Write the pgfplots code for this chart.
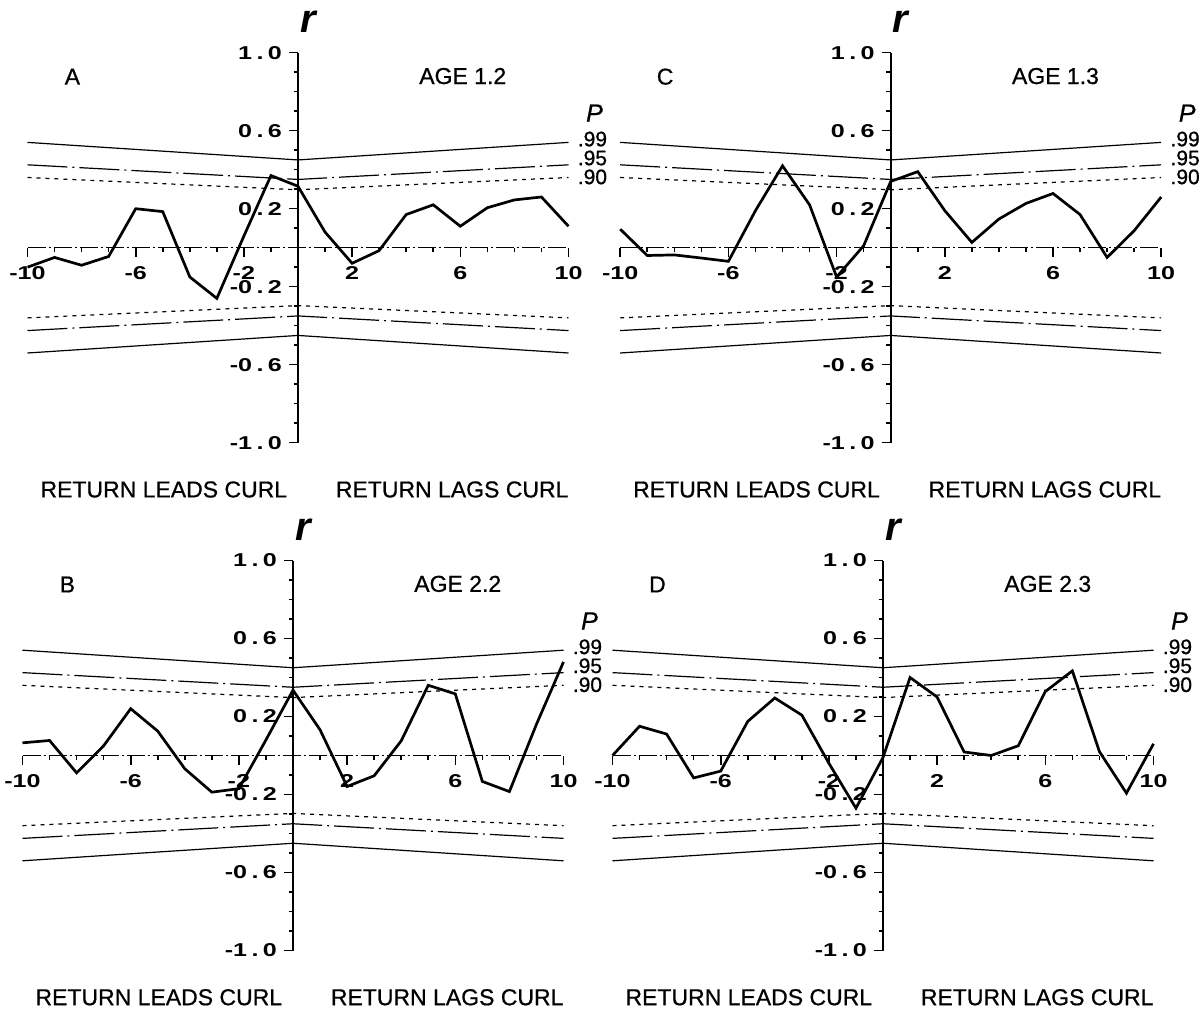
\documentclass[border=0pt]{standalone}
\usepackage{fontspec}
\setmainfont{Liberation Sans}
\newfontfamily\tickfont[FakeStretch=1.35]{Liberation Sans}
\newfontfamily\labfont[FakeBold=0.7]{Liberation Sans}
\usepackage{pgfplots}
\pgfplotsset{compat=1.18}

% spaced decimal for the r-axis labels, e.g. "0 . 6"
\newcommand{\dd}[2]{#1\hspace{2.2pt}.\hspace{2.2pt}#2}

\pgfplotsset{
  lagpanel/.style={
    scale only axis, width=270.5pt, height=195pt,
    xmin=-10, xmax=10, ymin=-1, ymax=1,
    axis lines=middle, enlargelimits=false, clip=false,
    axis line style={-},
    y axis line style={line width=1pt},
    x axis line style={line width=0.7pt, dash pattern=on 9pt off 1.5pt on 1pt off 1.5pt},
    xtick={-10,-6,-2,2,6,10},
    xticklabels={-10,-6,-2,2,6,10},
    minor xtick={-9,-8,-7,-5,-4,-3,-1,1,3,4,5,7,8,9},
    ytick={-1,-0.6,-0.2,0.2,0.6,1},
    yticklabels={-\dd10,-\dd06,-\dd02,\dd02,\dd06,\dd10},
    minor ytick={-0.9,-0.8,-0.7,-0.5,-0.4,-0.3,-0.1,0.1,0.3,0.4,0.5,0.7,0.8,0.9},
    xtick align=outside, ytick align=outside,
    major tick length=4.5pt, minor tick length=2.2pt,
    every tick/.style={black, line width=0.8pt},
    xticklabel style={font=\tickfont\bfseries\fontsize{9.3}{9.3}\selectfont, yshift=-1.5pt},
    yticklabel style={font=\tickfont\bfseries\fontsize{9.3}{9.3}\selectfont},
  },
  rline/.style={black, line width=1.35pt, line join=miter},
  p99/.style={black, line width=0.6pt},
  p95/.style={black, line width=0.6pt, dash pattern=on 20pt off 2.5pt on 1pt off 2.5pt},
  p90/.style={black, line width=0.6pt, dash pattern=on 2pt off 2.5pt},
}

% significance limits for r at P = .99, .95, .90
\newcommand{\conflines}{%
  \addplot[p99] coordinates {(-10,0.54) (0,0.45) (10,0.54)};
  \addplot[p95] coordinates {(-10,0.425) (0,0.35) (10,0.425)};
  \addplot[p90] coordinates {(-10,0.36) (0,0.297) (10,0.36)};
  \addplot[p99] coordinates {(-10,-0.54) (0,-0.45) (10,-0.54)};
  \addplot[p95] coordinates {(-10,-0.425) (0,-0.35) (10,-0.425)};
  \addplot[p90] coordinates {(-10,-0.36) (0,-0.297) (10,-0.36)};
}

% panel annotations: letter, age group
\newcommand{\paneltext}[2]{%
  \node[font=\fontsize{20}{20}\selectfont\bfseries\itshape] at (axis cs:0.37,1.16) {r};
  \node[font=\labfont\fontsize{11.5}{12}\selectfont] at (axis cs:-8.34,0.877) {#1};
  \node[font=\labfont\fontsize{11.5}{12}\selectfont] at (axis cs:6.09,0.88) {AGE #2};
  \node[font=\labfont\fontsize{12.5}{12}\selectfont\itshape] at (axis cs:10.96,0.69) {P};
  \node[anchor=west, inner sep=0pt, font=\labfont\fontsize{10.5}{10.5}\selectfont] at (axis cs:10.33,0.557) {.99};
  \node[anchor=west, inner sep=0pt, font=\labfont\fontsize{10.5}{10.5}\selectfont] at (axis cs:10.33,0.46) {.95};
  \node[anchor=west, inner sep=0pt, font=\labfont\fontsize{10.5}{10.5}\selectfont] at (axis cs:10.33,0.363) {.90};
  \node[font=\labfont\fontsize{11.5}{12}\selectfont] at (axis cs:-4.96,-1.24) {RETURN LEADS CURL};
  \node[font=\labfont\fontsize{11.5}{12}\selectfont] at (axis cs:5.70,-1.24) {RETURN LAGS CURL};
}

\begin{document}
\begin{tikzpicture}
\useasboundingbox (0pt,0pt) rectangle (602pt,506.5pt);

% A: age 1.2
\begin{axis}[lagpanel, at={(149pt,382.65pt)}, anchor=origin]
  \conflines
  \addplot[rline] coordinates {
    (-10,-0.10) (-9,-0.05) (-8,-0.09) (-7,-0.045) (-6,0.20) (-5,0.185)
    (-4,-0.15) (-3,-0.26) (-2,0.06) (-1,0.37) (0,0.315) (1,0.08)
    (2,-0.08) (3,-0.015) (4,0.17) (5,0.22) (6,0.11) (7,0.205)
    (8,0.245) (9,0.26) (10,0.11)};
  \paneltext{A}{1.2}
\end{axis}

% C: age 1.3
\begin{axis}[lagpanel, at={(445.35pt,382.65pt)}, anchor=origin]
  \conflines
  \addplot[rline] coordinates {
    (-10,0.095) (-9,-0.04) (-8,-0.037) (-7,-0.053) (-6,-0.07) (-5,0.19)
    (-4,0.42) (-3,0.22) (-2,-0.15) (-1,0.01) (0,0.34) (1,0.39)
    (2,0.19) (3,0.027) (4,0.147) (5,0.227) (6,0.278) (7,0.17)
    (8,-0.05) (9,0.087) (10,0.26)};
  \paneltext{C}{1.3}
\end{axis}

% B: age 2.2
\begin{axis}[lagpanel, at={(146.5pt,128.75pt)}, anchor=origin]
  \conflines
  \addplot[rline] coordinates {
    (-10,0.065) (-9,0.077) (-8,-0.089) (-7,0.05) (-6,0.24) (-5,0.125)
    (-4,-0.068) (-3,-0.188) (-2,-0.17) (-1,0.08) (0,0.335) (1,0.132)
    (2,-0.159) (3,-0.104) (4,0.075) (5,0.36) (6,0.316) (7,-0.133)
    (8,-0.185) (9,0.16) (10,0.48)};
  \paneltext{B}{2.2}
\end{axis}

% D: age 2.3
\begin{axis}[lagpanel, at={(441.5pt,128.75pt)}, anchor=origin]
  \conflines
  \addplot[rline] coordinates {
    (-10,0.0) (-9,0.15) (-8,0.11) (-7,-0.115) (-6,-0.08) (-5,0.175)
    (-4,0.295) (-3,0.207) (-2,-0.04) (-1,-0.27) (0,-0.01) (1,0.40)
    (2,0.30) (3,0.018) (4,0.0) (5,0.05) (6,0.328) (7,0.434)
    (8,0.02) (9,-0.193) (10,0.06)};
  \paneltext{D}{2.3}
\end{axis}
\end{tikzpicture}
\end{document}
